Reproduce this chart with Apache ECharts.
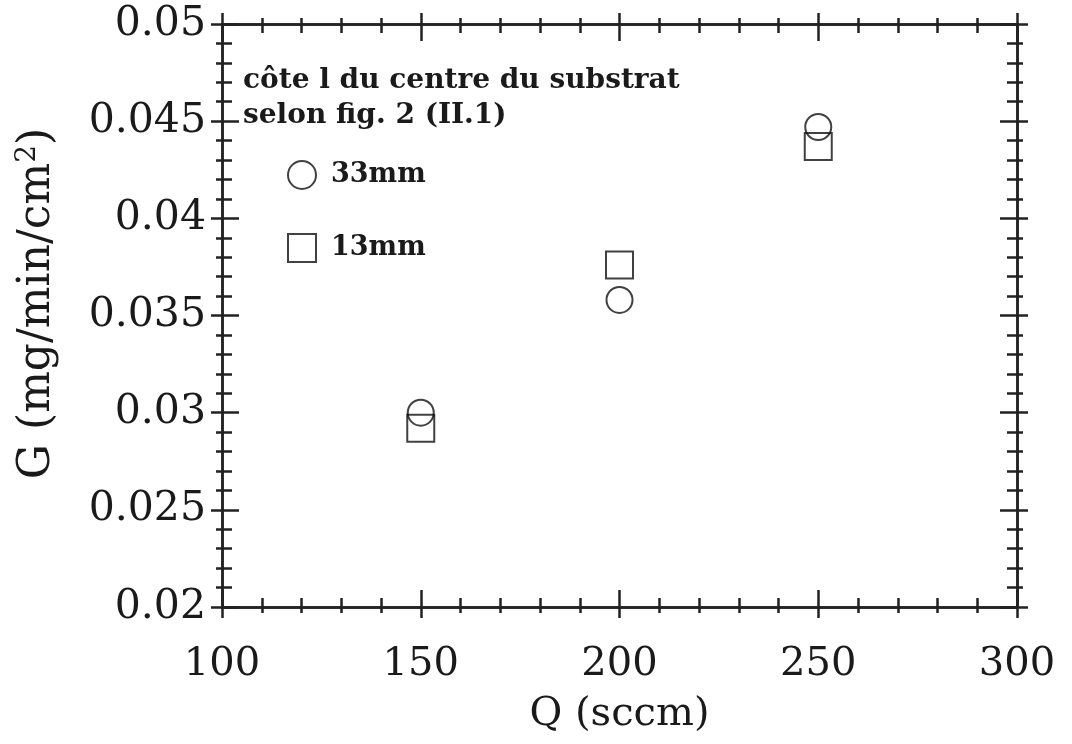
<!DOCTYPE html>
<html>
<head>
<meta charset="utf-8">
<script src="https://cdn.jsdelivr.net/npm/echarts@6/dist/echarts.min.js"></script>
<style>
html,body{margin:0;padding:0;background:#fff}
#Chart{width:1072px;height:744px}
</style>
</head>
<body>
<div id="Chart"></div>
<script>
// donnees
var qValues=[150,200,250]
var g33mm=[0.0300,0.0358,0.0447]
var g13mm=[0.0292,0.0376,0.0437]
var seriesNames=['33mm','13mm']
var xTicks=[100,150,200,250,300]
var yTicks=[0.02,0.025,0.03,0.035,0.04,0.045,0.05]

var ink='#222'
var serif='DejaVu Serif'

function pairs(xs,ys){
    var out=[]
    for(var i=0;i<xs.length;i++) out.push([xs[i],ys[i]])
    return out
}

// un axe = deux axes superposes, pour que les graduations traversent le trait
function xAx(pos,inside,labels){
    return {
        type:'value',position:pos,min:xTicks[0],max:xTicks[xTicks.length-1],interval:50,
        axisLine:{show:true,onZero:false,lineStyle:{color:ink,width:2.5}},
        axisTick:{show:true,inside:inside,length:inside?17:11,lineStyle:{color:ink,width:2.5}},
        minorTick:{show:true,splitNumber:5,length:inside?9:6,lineStyle:{color:ink,width:2.5}},
        splitLine:{show:false},
        axisLabel:{show:labels,margin:38,color:'#1a1a1a',fontFamily:serif,fontSize:40},
        name:labels?'Q (sccm)':'',nameLocation:'middle',nameGap:88,
        nameTextStyle:{color:'#1a1a1a',fontFamily:serif,fontSize:40}
    }
}
function yAx(pos,inside,labels){
    return {
        type:'value',position:pos,min:yTicks[0],max:yTicks[yTicks.length-1],interval:0.005,
        axisLine:{show:true,onZero:false,lineStyle:{color:ink,width:2.5}},
        axisTick:{show:true,inside:inside,length:inside?17:11,lineStyle:{color:ink,width:2.5}},
        minorTick:{show:true,splitNumber:5,length:inside?10:6,lineStyle:{color:ink,width:2.5}},
        splitLine:{show:false},
        axisLabel:{show:labels,margin:16,color:'#1a1a1a',fontFamily:serif,fontSize:41,
            formatter:function(v){return String(+v.toFixed(3))}},
        name:labels?'G (mg/min/cm{sup|2})':'',nameLocation:'middle',nameGap:160,
        nameTextStyle:{color:'#1a1a1a',fontFamily:serif,fontSize:44,padding:[0,0,0,24],
            rich:{sup:{fontFamily:serif,fontSize:28,verticalAlign:'top',padding:[0,0,20,0]}}}
    }
}

function scatterSeries(name,ys,symbol,size){
    return {
        name:name,type:'scatter',xAxisIndex:0,yAxisIndex:0,
        symbol:symbol,symbolSize:size,
        itemStyle:{color:'rgba(0,0,0,0)',borderColor:'#111',borderWidth:2},
        emphasis:{disabled:true},
        data:pairs(qValues,ys)
    }
}

var myChart=echarts.init(document.getElementById('Chart'))
var option={
    animation:false,
    grid:{left:222,right:55,top:24,bottom:137},
    xAxis:[xAx('bottom',true,true),xAx('bottom',false,false),xAx('top',true,false),xAx('top',false,false)],
    yAxis:[yAx('left',true,true),yAx('left',false,false),yAx('right',true,false),yAx('right',false,false)],
    legend:{
        orient:'vertical',left:282,top:155,itemWidth:28,itemHeight:28,itemGap:43,
        data:[{name:seriesNames[0],icon:'circle'},{name:seriesNames[1],icon:'rect'}],
        itemStyle:{color:'rgba(0,0,0,0)',borderColor:'#111',borderWidth:2},
        textStyle:{color:'#1a1a1a',fontFamily:serif,fontWeight:'bold',fontSize:27,padding:[0,0,0,10]}
    },
    graphic:[{
        type:'text',left:243,top:63,
        style:{text:'côte l du centre du substrat\nselon fig. 2 (II.1)',fill:'#1a1a1a',
            font:'bold 28px "DejaVu Serif"',lineHeight:35}
    }],
    series:[scatterSeries(seriesNames[0],g33mm,'circle',26),scatterSeries(seriesNames[1],g13mm,'rect',27)]
}
myChart.setOption(option)
</script>
</body>
</html>
